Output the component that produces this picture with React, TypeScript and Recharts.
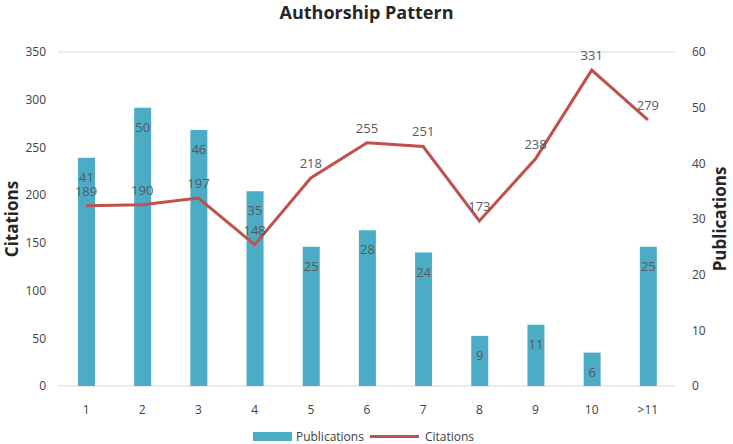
import React from "react";
import {
  ComposedChart,
  Bar,
  Line,
  XAxis,
  YAxis,
  CartesianGrid,
  LabelList,
} from "recharts";

const categories = ["1", "2", "3", "4", "5", "6", "7", "8", "9", "10", ">11"];
const publications = [41, 50, 46, 35, 25, 28, 24, 9, 11, 6, 25];
const citations = [189, 190, 197, 148, 218, 255, 251, 173, 238, 331, 279];
const leftTicks = [0, 50, 100, 150, 200, 250, 300, 350];
const rightTicks = [0, 10, 20, 30, 40, 50, 60];

const data = categories.map((c, i) => ({
  name: c,
  Publications: publications[i],
  Citations: citations[i],
}));

const FONT = "'Open Sans', 'Noto Sans', sans-serif";
const BAR = "#4BACC6";
const LINE = "#C0504D";
const TXT = "#404040";
const LBL = "#595959";

export default function App() {
  return (
    <div
      style={{
        position: "absolute",
        left: 0,
        top: 0,
        width: 733,
        height: 444,
        background: "#fff",
        fontFamily: FONT,
      }}
    >
      <div
        style={{
          position: "absolute",
          top: 0,
          left: 0,
          width: 733,
          textAlign: "center",
          fontWeight: 700,
          fontSize: 18,
          color: "#262626",
        }}
      >
        Authorship Pattern
      </div>
      <ComposedChart
        width={733}
        height={444}
        data={data}
        margin={{ top: 52, right: 0, left: 0, bottom: 0 }}
        barSize={17}
        style={{ fontFamily: FONT }}
      >
        <CartesianGrid vertical={false} stroke="#d9d9d9" strokeWidth={1} />
        <XAxis
          dataKey="name"
          axisLine={false}
          tickLine={false}
          height={58}
          tick={{ fill: TXT, fontSize: 12 }}
          dy={11}
          interval={0}
        />
        <YAxis
          yAxisId="left"
          orientation="left"
          width={58}
          domain={[0, 350]}
          ticks={leftTicks}
          axisLine={false}
          tickLine={false}
          tick={{ fill: TXT, fontSize: 12 }}
          dx={-4}
          label={{
            value: "Citations",
            angle: -90,
            position: "insideLeft",
            offset: 0,
            dx: 12,
            style: { fontWeight: 700, fontSize: 17, fill: "#262626", textAnchor: "middle" },
          }}
        />
        <YAxis
          yAxisId="right"
          orientation="right"
          width={57}
          domain={[0, 60]}
          ticks={rightTicks}
          axisLine={false}
          tickLine={false}
          tick={{ fill: TXT, fontSize: 12 }}
          dx={8}
          label={{
            value: "Publications",
            angle: -90,
            position: "insideRight",
            offset: 0,
            dx: -13,
            style: { fontWeight: 700, fontSize: 17, fill: "#262626", textAnchor: "middle" },
          }}
        />
        <Bar
          yAxisId="right"
          dataKey="Publications"
          fill={BAR}
          isAnimationActive={false}
        >
          <LabelList
            dataKey="Publications"
            position="insideTop"
            offset={15}
            fill={LBL}
            fontSize={13}
          />
        </Bar>
        <Line
          yAxisId="left"
          type="linear"
          dataKey="Citations"
          stroke={LINE}
          strokeWidth={3}
          dot={false}
          activeDot={false}
          isAnimationActive={false}
        >
          <LabelList
            dataKey="Citations"
            position="top"
            offset={10}
            fill={LBL}
            fontSize={13}
          />
        </Line>
      </ComposedChart>
      <div
        style={{
          position: "absolute",
          top: 428,
          left: 0,
          width: 733,
          display: "flex",
          justifyContent: "center",
          alignItems: "center",
          fontSize: 12,
          color: TXT,
          paddingRight: 6,
          boxSizing: "border-box",
        }}
      >
        <span style={{ display: "inline-block", width: 39, height: 9, background: BAR, marginRight: 4 }} />
        <span style={{ marginRight: 6 }}>Publications</span>
        <span style={{ display: "inline-block", width: 49, height: 3, background: LINE, marginRight: 6 }} />
        <span>Citations</span>
      </div>
    </div>
  );
}
